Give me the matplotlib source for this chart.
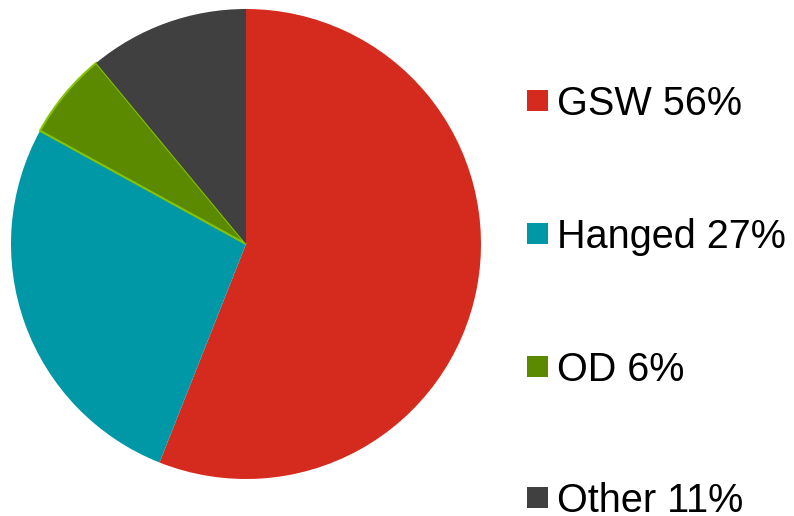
import matplotlib
matplotlib.use("Agg")
import matplotlib.pyplot as plt
from matplotlib.patches import Rectangle

labels = ["GSW", "Hanged", "OD", "Other"]
values = [56, 27, 6, 11]
colors = ["#d52b1e", "#0097a7", "#5b8a00", "#404040"]
edges = ["none", "none", "#86c400", "none"]

W, H = 794, 516
fig = plt.figure(figsize=(W/100, H/100), dpi=100)
cx, cy, r = 246, 244, 235
ax = fig.add_axes([(cx - r)/W, (H - cy - r)/H, 2*r/W, 2*r/H])
wedges, _ = ax.pie(values, colors=colors, startangle=90, counterclock=False,
                   radius=1, wedgeprops=dict(linewidth=0))
for w, e in zip(wedges, edges):
    if e != "none":
        w.set_edgecolor(e)
        w.set_linewidth(1.5)
ax.set_xlim(-1, 1)
ax.set_ylim(-1, 1)
ax.set_aspect("equal")
ax.axis("off")

row_y = [100, 233, 366, 497]
sq = 21
for lab, v, c, y in zip(labels, values, colors, row_y):
    fig.patches.append(Rectangle(((527)/W, (H - y - sq/2)/H), sq/W, sq/H,
                                 transform=fig.transFigure, facecolor=c,
                                 edgecolor="none"))
    fig.text(557/W, (H - y)/H, f"{lab} {v}%", fontsize=28.5,
             family="Liberation Sans", va="center_baseline", ha="left", color="#000000")

fig.savefig("out.png", dpi=100)
